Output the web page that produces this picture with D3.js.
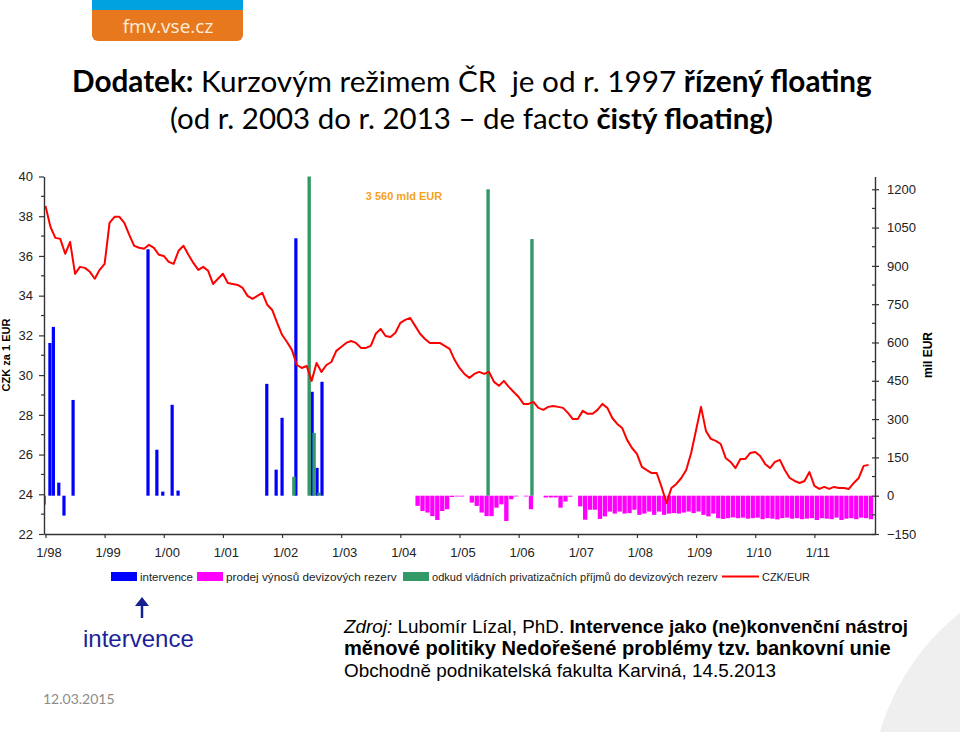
<!DOCTYPE html>
<html>
<head>
<meta charset="utf-8">
<script src="https://cdn.jsdelivr.net/npm/d3@7"></script>
<style>
  body { margin: 0; background: #fff; }
  svg { display: block; }
</style>
</head>
<body>
<div id="chart"></div>
<script>
// CZK/EUR monthly average, index 0 = 1/98
var czkEur = [
  38.52, 37.47, 36.91, 36.86, 36.11, 36.71, 35.10, 35.45, 35.40, 35.20, 34.85, 35.30,
  35.60, 37.67, 37.97, 37.97, 37.67, 37.06, 36.51, 36.41, 36.36, 36.56, 36.41, 36.06,
  36.00, 35.70, 35.60, 36.26, 36.51, 36.06, 35.65, 35.30, 35.45, 35.25, 34.59, 34.85,
  35.10, 34.64, 34.59, 34.54, 34.39, 33.99, 33.84, 33.99, 34.14, 33.54, 33.28, 32.63,
  32.03, 31.67, 31.27, 30.51, 30.36, 30.46, 29.71, 30.61, 30.16, 30.51, 30.66, 31.22,
  31.42, 31.62, 31.72, 31.62, 31.37, 31.37, 31.47, 32.08, 32.33, 31.97, 31.92, 32.13,
  32.63, 32.78, 32.88, 32.48, 32.08, 31.82, 31.62, 31.62, 31.62, 31.47, 31.32, 30.77,
  30.36, 30.06, 29.86, 30.06, 30.16, 30.06, 30.16, 29.66, 29.46, 29.71, 29.41, 29.15,
  28.90, 28.55, 28.55, 28.65, 28.35, 28.25, 28.40, 28.45, 28.40, 28.35, 28.10, 27.79,
  27.79, 28.20, 28.05, 28.05, 28.25, 28.55, 28.35, 27.84, 27.54, 27.34, 26.74, 26.33,
  26.03, 25.38, 25.22, 25.07, 25.07, 24.37, 23.56, 24.32, 24.52, 24.82, 25.22, 26.08,
  27.24, 28.40, 27.19, 26.79, 26.69, 26.53, 25.83, 25.63, 25.32, 25.78, 25.78, 26.08,
  26.13, 25.93, 25.53, 25.32, 25.63, 25.73, 25.22, 24.82, 24.67, 24.57, 24.67, 25.12,
  24.42, 24.27, 24.37, 24.27, 24.37, 24.32, 24.32, 24.27, 24.57, 24.82, 25.43, 25.48
];

// intervence (mil EUR), month position since 1/98
var intervMonth = [-0.3, 0.9, 1.6, 2.7, 3.75, 5.6, 20.8, 22.6, 23.8, 25.7, 26.9, 44.9, 46.8, 48.0, 50.8, 54.1, 55.1, 56.1];
var intervValue = [-35, 598, 661, 51, -78, 375, 965, 180, 16, 356, 20, 438, 102, 305, 1008, 407, 109, 446];

// privatizacni prijmy do devizovych rezerv (mil EUR)
var privMonth = [50.4, 53.5, 54.5, 55.5, 89.8, 98.7];
var privValue = [74, 3560, 246, 12, 1200, 1005];

// prodej vynosu devizovych rezerv (mil EUR), first month = 75 (4/04)
var prodejStart = 75;
var prodejValue = [
  -40, -60, -66, -80, -95, -60, -53, -5, -3, -3,
  0,
  -27, -40, -66, -80, -80, -47, -34, -99, -14, -3,
  0, -3, -53, 0, 0,
  -7, -7, -7, -47, -23, -4,
  0,
  -42, -94, -55, -55, -91, -81, -62, -70, -62, -70, -68, -55,
  -75, -70, -62, -75, -62, -75, -70, -68, -70, -66, -62, -68,
  -62, -75, -81, -70, -88, -91, -88, -85, -88, -86, -90, -88,
  -86, -92, -88, -90, -93, -88, -86, -90, -88, -92, -90, -88,
  -95, -88, -90, -92, -86, -95, -90, -88, -92, -86, -88, -92
];

var leftTicks = [22, 24, 26, 28, 30, 32, 34, 36, 38, 40];
var rightTicks = [-150, 0, 150, 300, 450, 600, 750, 900, 1050, 1200];
var yearLabels = ["1/98", "1/99", "1/00", "1/01", "1/02", "1/03", "1/04", "1/05", "1/06", "1/07", "1/08", "1/09", "1/10", "1/11"];

var legendItems = [
  { name: "intervence", color: "#0000ff", type: "rect" },
  { name: "prodej výnosů devizových rezerv", color: "#ff00ff", type: "rect" },
  { name: "odkud vládních privatizačních příjmů do devizových rezerv", color: "#339966", type: "rect" },
  { name: "CZK/EUR", color: "#ff0000", type: "line" }
];

var width = 960, height = 732;
var svg = d3.select("#chart").append("svg")
  .attr("width", width)
  .attr("height", height);

// light background swoosh bottom right
svg.append("circle")
  .attr("cx", 1110).attr("cy", 800).attr("r", 240)
  .attr("fill", "#efefef");

// logo
svg.append("rect").attr("x", 92).attr("y", -10).attr("width", 151).attr("height", 51)
  .attr("rx", 6).attr("fill", "#e8781e");
svg.append("rect").attr("x", 92).attr("y", 0).attr("width", 151).attr("height", 10)
  .attr("fill", "#00a3e0");
svg.append("text").attr("x", 168).attr("y", 33)
  .attr("text-anchor", "middle")
  .style("font-family", "'Open Sans', sans-serif").style("font-size", "19px")
  .attr("fill", "#fdeedd").text("fmv.vse.cz");

// title
function fitText(sel, target) {
  var len = sel.node().getComputedTextLength();
  var fs = parseFloat(sel.style("font-size"));
  sel.style("font-size", (fs * target / len) + "px");
}
var t1 = svg.append("text").attr("x", 72).attr("y", 92).style("white-space", "pre")
  .style("font-family", "Lato, sans-serif").style("font-size", "32px").attr("fill", "#000");
t1.append("tspan").style("font-weight", "bold").text("Dodatek:");
t1.append("tspan").text(" Kurzovým režimem ČR  je od r. 1997 ");
t1.append("tspan").style("font-weight", "bold").text("řízený floating");
fitText(t1, 800);

var t2 = svg.append("text").attr("x", 170).attr("y", 129).style("white-space", "pre")
  .style("font-family", "Lato, sans-serif").style("font-size", "32px").attr("fill", "#000");
t2.append("tspan").text("(od r. 2003 do r. 2013 – de facto ");
t2.append("tspan").style("font-weight", "bold").text("čistý floating)");
fitText(t2, 603);

// chart area
var plotLeft = 44, plotRight = 875, plotTop = 176.5, plotBottom = 534;
var x = d3.scaleLinear().domain([-0.3, 168.3]).range([plotLeft, plotRight]);
var yL = d3.scaleLinear().domain([22, 40]).range([plotBottom, plotTop]);
var yR = d3.scaleLinear().domain([-150, 1250]).range([plotBottom, plotTop]);

svg.append("clipPath").attr("id", "plot")
  .append("rect").attr("x", plotLeft).attr("y", plotTop)
  .attr("width", plotRight - plotLeft).attr("height", plotBottom - plotTop);

var plot = svg.append("g").attr("clip-path", "url(#plot)");

// prodej bars
var prodej = prodejValue.map(function(v, i) { return { m: prodejStart + i, v: v }; })
  .filter(function(d) { return d.v !== 0; });
plot.selectAll(".prodej").data(prodej).enter().append("rect")
  .attr("class", "prodej")
  .attr("x", function(d) { return x(d.m) + 0.3; })
  .attr("width", function(d) { return x(d.m + 1) - x(d.m) - 0.6; })
  .attr("y", yR(0))
  .attr("height", function(d) { return yR(d.v) - yR(0); })
  .attr("fill", "#ff00ff");

// intervence bars
var interv = intervMonth.map(function(m, i) { return { m: m, v: intervValue[i] }; });
plot.selectAll(".interv").data(interv).enter().append("rect")
  .attr("class", "interv")
  .attr("x", function(d) { return x(d.m) - 1.6; })
  .attr("width", 3.2)
  .attr("y", function(d) { return Math.min(yR(d.v), yR(0)); })
  .attr("height", function(d) { return Math.abs(yR(d.v) - yR(0)); })
  .attr("fill", "#0000ff");

// privatizace bars
var priv = privMonth.map(function(m, i) { return { m: m, v: privValue[i] }; });
plot.selectAll(".priv").data(priv).enter().append("rect")
  .attr("class", "priv")
  .attr("x", function(d) { return x(d.m) - 1.7; })
  .attr("width", 3.4)
  .attr("y", function(d) { return yR(d.v); })
  .attr("height", function(d) { return yR(0) - yR(d.v); })
  .attr("fill", "#339966");

// CZK/EUR line
var line = d3.line()
  .x(function(d, i) { return x(i); })
  .y(function(d) { return yL(d); });
plot.append("path").datum(czkEur)
  .attr("d", line)
  .attr("fill", "none")
  .attr("stroke", "#ff0000")
  .attr("stroke-width", 2)
  .attr("stroke-linejoin", "round");

svg.append("text").attr("x", 404).attr("y", 200)
  .attr("text-anchor", "middle")
  .style("font-family", "'Liberation Sans', Arial, sans-serif").style("font-size", "11px")
  .style("font-weight", "bold")
  .attr("fill", "#f5a31a").text("3 560 mld EUR");

// axes
var axisFont = "'Liberation Sans', Arial, sans-serif";
var axisColor = "#333";

var gL = svg.append("g").attr("transform", "translate(" + plotLeft + ",0)")
  .call(d3.axisLeft(yL).tickValues(leftTicks).tickSize(5).tickPadding(6).tickSizeOuter(0));
gL.selectAll(".minor").data(d3.range(23, 40, 2)).enter().append("line")
  .attr("class", "minor")
  .attr("x1", -3).attr("x2", 0)
  .attr("y1", function(d) { return yL(d); }).attr("y2", function(d) { return yL(d); });

var gR = svg.append("g").attr("transform", "translate(" + plotRight + ",0)")
  .call(d3.axisRight(yR).tickValues(rightTicks).tickSize(4).tickPadding(8).tickSizeOuter(0)
    .tickFormat(d3.format("d")));
gR.selectAll(".tick line").attr("x1", -3);
gR.selectAll(".minor").data(d3.range(-75, 1250, 150)).enter().append("line")
  .attr("class", "minor")
  .attr("x1", -3).attr("x2", 0)
  .attr("y1", function(d) { return yR(d); }).attr("y2", function(d) { return yR(d); });

var gX = svg.append("g").attr("transform", "translate(0," + plotBottom + ")")
  .call(d3.axisBottom(x).tickValues(d3.range(0, 168, 12)).tickSize(4).tickPadding(10).tickSizeOuter(0)
    .tickFormat(function(d, i) { return yearLabels[i]; }));
gX.selectAll(".tick text").attr("dx", 3);

[gL, gR, gX].forEach(function(g) {
  g.select(".domain").attr("stroke", axisColor).attr("stroke-width", 1.4);
  g.selectAll("line").attr("stroke", axisColor).attr("stroke-width", 1.2);
  g.selectAll("text").style("font-family", axisFont).style("font-size", "13px").attr("fill", "#222");
});

svg.append("text")
  .attr("transform", "translate(10,355) rotate(-90)")
  .attr("text-anchor", "middle")
  .style("font-family", axisFont).style("font-size", "11px").style("font-weight", "bold")
  .text("CZK za 1 EUR");
svg.append("text")
  .attr("transform", "translate(932,355) rotate(-90)")
  .attr("text-anchor", "middle")
  .style("font-family", axisFont).style("font-size", "12px").style("font-weight", "bold")
  .text("mil EUR");

// legend
var legendX = [111, 197, 403, 722];
var legendW = [53, 171, 286, 48];
var lg = svg.append("g");
legendItems.forEach(function(d, i) {
  if (d.type === "rect") {
    lg.append("rect").attr("x", legendX[i]).attr("y", 572).attr("width", 26).attr("height", 9)
      .attr("fill", d.color);
  } else {
    lg.append("line").attr("x1", legendX[i]).attr("x2", legendX[i] + 37)
      .attr("y1", 576.5).attr("y2", 576.5).attr("stroke", d.color).attr("stroke-width", 2);
  }
  var lt = lg.append("text").attr("x", legendX[i] + (d.type === "rect" ? 29 : 40)).attr("y", 580.5)
    .style("font-family", axisFont).style("font-size", "11.5px").attr("fill", "#222")
    .text(d.name);
  fitText(lt, legendW[i]);
});

// arrow + label
svg.append("line").attr("x1", 142).attr("x2", 142).attr("y1", 618).attr("y2", 603)
  .attr("stroke", "#14208f").attr("stroke-width", 2.5);
svg.append("path").attr("d", "M135,606 L142,597 L149,606 Z").attr("fill", "#14208f");
svg.append("text").attr("x", 83).attr("y", 647)
  .style("font-family", axisFont).style("font-size", "24px").attr("fill", "#1b1f9a")
  .text("intervence");

// source
var src = svg.append("g").style("font-family", axisFont).style("font-size", "17.5px")
  .style("white-space", "pre").attr("fill", "#000");
var s1 = src.append("text").attr("x", 344).attr("y", 633);
s1.append("tspan").style("font-style", "italic").text("Zdroj:");
s1.append("tspan").text(" Lubomír Lízal, PhD. ");
s1.append("tspan").style("font-weight", "bold").text("Intervence jako (ne)konvenční nástroj");
fitText(s1, 564);
var s2 = src.append("text").attr("x", 344).attr("y", 655).style("font-weight", "bold")
  .text("měnové politiky  Nedořešené problémy tzv. bankovní unie");
fitText(s2, 547);
var s3 = src.append("text").attr("x", 344).attr("y", 677)
  .text("Obchodně podnikatelská fakulta Karviná, 14.5.2013");
fitText(s3, 432);

svg.append("text").attr("x", 43).attr("y", 704)
  .style("font-family", "Lato, sans-serif").style("font-size", "14px").attr("fill", "#8c8c8c")
  .text("12.03.2015");
</script>
</body>
</html>
